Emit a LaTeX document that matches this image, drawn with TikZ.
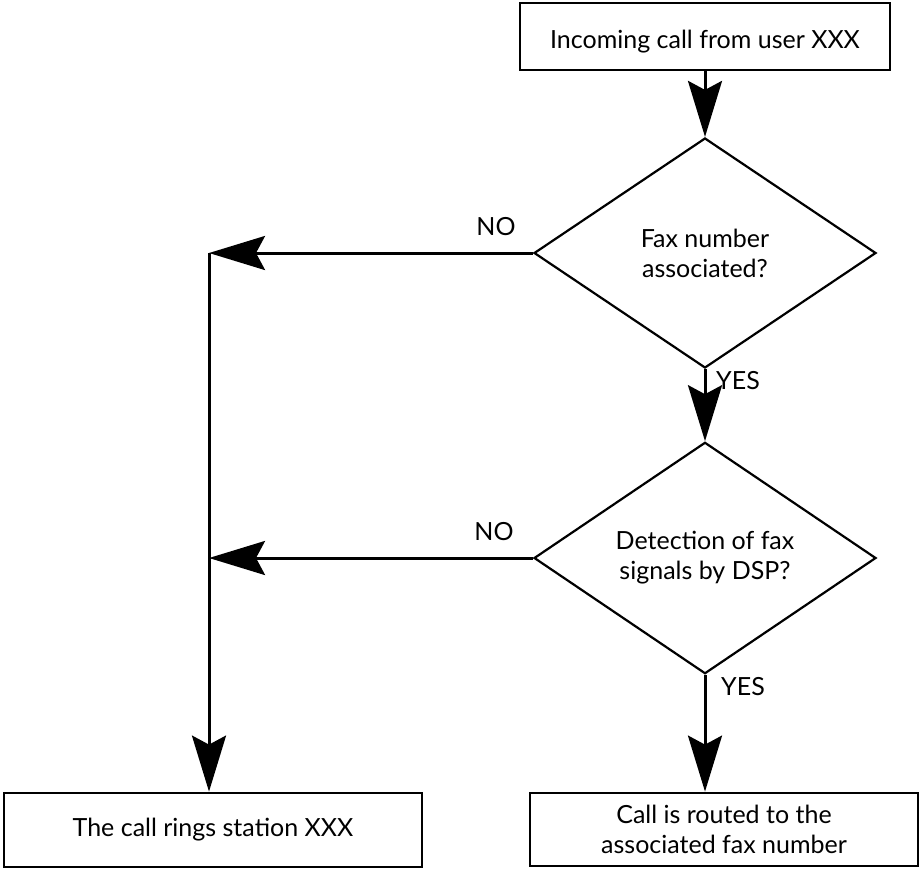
\documentclass[tikz,border=0pt]{standalone}
\usepackage{fontspec}
\setmainfont{Lato}
\usetikzlibrary{shapes.geometric,arrows.meta}
\begin{document}
\begin{tikzpicture}[x=1pt,y=-1pt,
  txt/.style={font=\fontsize{25}{30}\selectfont, align=center},
  box/.style={draw, line width=2.8pt, inner sep=0pt, txt},
  dec/.style={draw, shape=diamond, line width=2.2pt, inner sep=0pt, minimum width=342pt, minimum height=230pt, txt},
  arr/.style={line width=3pt, -{Stealth[length=56pt, width=34pt, inset=9pt]}},
  lbl/.style={font=\fontsize{25}{30}\selectfont, inner sep=0pt}
]
\useasboundingbox (0,0) rectangle (920,868);
\node[box, minimum width=370pt, minimum height=67pt, text height=23pt, text depth=0pt] (t) at (705,36.5) {Incoming call from user XXX};
\node[dec] (d1) at (705,253) {Fax number\\associated?};
\node[dec] (d2) at (705,558) {Detection of fax\\signals by DSP?};
\node[box, minimum width=418pt, minimum height=74pt] (b1) at (213,830) {The call rings station XXX};
\node[box, minimum width=388pt, minimum height=73pt] (b2) at (724,829.5) {Call is routed to the\\associated fax number};
\coordinate (j1) at (209,253);
\coordinate (j2) at (209,558);
\draw[arr] (t.south) -- (d1.north);
\draw[arr] (d1.south) -- node[lbl, pos=0.16, xshift=33pt] {YES} (d2.north);
\draw[arr] (d2.south) -- node[lbl, pos=0.1, xshift=38pt] {YES} (d2.south |- b2.north);
\draw[arr] (d1.west) -- node[lbl, pos=0.114, yshift=26pt] {NO} (j1);
\draw[arr] (d2.west) -- node[lbl, pos=0.12, yshift=26pt] {NO} (j2);
\draw[arr] (j1) -- (j1 |- b1.north);
\end{tikzpicture}
\end{document}
